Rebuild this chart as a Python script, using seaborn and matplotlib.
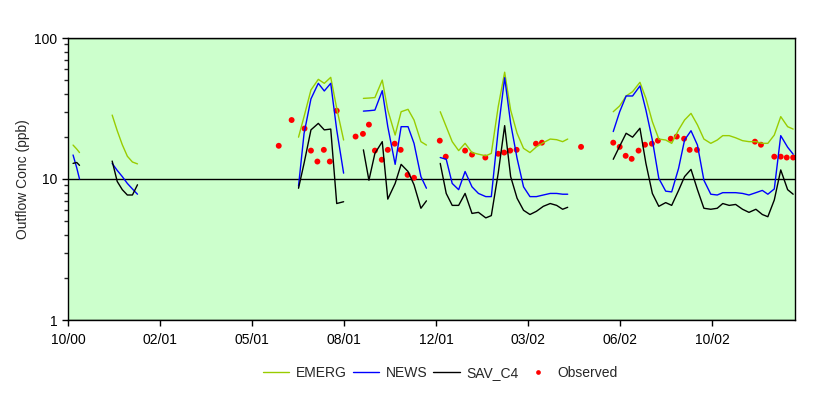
import numpy as np
import pandas as pd
import matplotlib
matplotlib.use("Agg")
import matplotlib.pyplot as plt
import matplotlib.ticker as mticker
import seaborn as sns

# x positions are in sample steps, one tick label every 20 steps
tick_pos = [0, 20, 40, 60, 80, 100, 120, 140]
tick_labels = ["10/00", "02/01", "05/01", "08/01", "12/01", "03/02", "06/02", "10/02"]

seg_x = [
    [1.1, 1.9, 2.5],
    [9.6, 10.7, 11.8, 12.9, 14.0, 15.1],
    [50.1, 51.3, 52.8, 54.4, 55.7, 57.1, 58.4, 59.9],
    [64.2, 65.4, 66.7, 68.3, 69.5, 71.1, 72.4, 73.9, 75.2, 76.7, 77.9],
    [80.9, 82.2, 83.5, 84.9, 86.3, 87.8, 89.2, 90.8, 92.0, 93.5, 94.9,
     96.2, 97.6, 99.0, 100.4, 101.8, 103.3, 104.8, 106.2, 107.5, 108.6],
    [118.5, 119.9, 121.3, 122.7, 124.3, 125.6, 127.0, 128.4, 129.9, 131.2,
     132.7, 134.0, 135.4, 136.8, 138.2, 139.7, 141.1, 142.3, 143.7, 145.1,
     146.6, 148.0, 149.5, 150.9, 152.1, 153.5, 154.9, 156.4, 157.6],
]

emerg = [
    [17.4, 16.3, 15.4],
    [28.4, 22.0, 17.5, 14.5, 13.2, 12.8],
    [19.8, 27.7, 42.8, 50.9, 47.7, 52.6, 31.7, 18.9],
    [37.3, 37.5, 37.8, 50.3, 30.8, 20.5, 30.0, 31.2, 26.2, 18.4, 17.4],
    [30.0, 23.5, 18.4, 15.9, 17.9, 15.4, 15.0, 14.6, 15.2, 32.6, 57.2,
     30.8, 21.1, 16.5, 15.4, 16.9, 18.1, 19.2, 19.0, 18.4, 19.2],
    [30.0, 33.0, 38.8, 41.6, 48.5, 37.3, 25.5, 19.2, 18.9, 17.9,
     22.3, 26.2, 29.2, 24.2, 19.2, 17.9, 18.9, 20.3, 20.3, 19.6,
     18.7, 18.4, 18.4, 17.9, 17.9, 20.5, 27.7, 23.5, 22.6],
]

news = [
    [14.8, 12.0, 10.0],
    [12.9, 11.5, 10.4, 9.3, 8.5, 7.8],
    [8.9, 21.0, 37.0, 47.7, 42.1, 47.7, 22.3, 11.0],
    [30.3, 30.5, 30.8, 42.3, 23.5, 12.7, 23.5, 23.5, 17.9, 10.4, 8.6],
    [14.2, 13.8, 9.3, 8.4, 11.3, 8.8, 7.9, 7.5, 7.5, 22.3, 52.3,
     24.8, 14.0, 8.8, 7.5, 7.5, 7.7, 7.9, 7.9, 7.8, 7.8],
    [21.7, 30.0, 38.8, 38.8, 45.7, 30.8, 18.9, 10.1, 8.2, 8.1,
     11.9, 18.9, 22.0, 17.4, 9.8, 7.8, 7.7, 8.0, 8.0, 8.0,
     7.9, 7.7, 8.0, 8.3, 7.8, 8.5, 20.3, 16.8, 15.0],
]

sav_c4 = [
    [12.9, 13.1, 12.5],
    [13.4, 9.6, 8.4, 7.7, 7.7, 9.1],
    [8.6, 12.9, 22.3, 24.8, 22.3, 22.6, 6.7, 6.9],
    [16.1, 9.8, 15.2, 18.4, 7.2, 9.3, 12.7, 11.3, 9.1, 6.2, 7.0],
    [12.9, 7.9, 6.5, 6.5, 7.9, 5.7, 5.8, 5.3, 5.5, 11.0, 23.9,
     10.4, 7.3, 6.0, 5.6, 5.9, 6.4, 6.7, 6.5, 6.1, 6.3],
    [13.8, 17.1, 21.1, 19.8, 22.9, 12.9, 7.9, 6.4, 6.8, 6.5,
     8.3, 10.4, 11.7, 8.4, 6.2, 6.1, 6.2, 6.7, 6.5, 6.6,
     6.1, 5.8, 6.1, 5.6, 5.4, 7.1, 11.6, 8.4, 7.8],
]

obs_x = [45.8, 48.6, 51.4, 52.8, 54.2, 55.6, 56.9, 58.4,
         62.5, 64.1, 65.4, 66.7, 68.2, 69.5, 71.0, 72.3, 73.8, 75.2,
         80.8, 82.1, 86.3, 87.8, 90.7, 93.5, 94.8, 96.1, 97.5, 101.7, 103.0, 111.5,
         118.5, 119.9, 121.2, 122.5, 124.0, 125.4, 126.9, 128.2, 131.0, 132.3,
         133.9, 135.1, 136.7, 149.3, 150.6, 153.5, 154.9, 156.2, 157.6]
obs_y = [17.2, 26.2, 22.8, 15.9, 13.3, 16.1, 13.3, 30.5,
         20.0, 20.9, 24.3, 15.9, 13.7, 16.1, 17.8, 16.1, 10.7, 10.2,
         18.7, 14.4, 15.9, 14.9, 14.2, 15.1, 15.4, 15.9, 16.1, 17.8, 18.1, 16.9,
         18.1, 16.9, 14.6, 13.9, 15.9, 17.5, 17.8, 18.7, 19.3, 20.0,
         19.3, 16.1, 16.1, 18.4, 17.5, 14.4, 14.4, 14.2, 14.2]

rows = []
for name, series in [("EMERG", emerg), ("NEWS", news), ("SAV_C4", sav_c4)]:
    for k, (xs, ys) in enumerate(zip(seg_x, series)):
        for xv, yv in zip(xs, ys):
            rows.append({"series": name, "seg": k, "x": xv, "y": yv})
lines = pd.DataFrame(rows)
observed = pd.DataFrame({"x": obs_x, "y": obs_y, "series": "Observed"})

sns.set_style("ticks")
plt.rcParams["font.family"] = ["Liberation Sans", "DejaVu Sans"]
plt.rcParams["font.size"] = 10

fig = plt.figure(figsize=(8.29, 3.96), dpi=100)
ax = fig.add_axes([68 / 829, 1 - 320 / 396, (795 - 68) / 829, (320 - 38) / 396])
ax.set_facecolor("#CCFFCC")

palette = {"EMERG": "#99CC00", "NEWS": "#0000FF", "SAV_C4": "#000000"}
sns.lineplot(data=lines, x="x", y="y", hue="series", units="seg",
             estimator=None, palette=palette, linewidth=1, ax=ax, legend=True)
sns.scatterplot(data=observed, x="x", y="y", hue="series",
                palette={"Observed": "#FF0000"}, s=18, linewidth=0,
                ax=ax, legend=True)

ax.set_yscale("log")
ax.set_ylim(1, 100)
ax.set_xlim(0, 158)
ax.yaxis.set_major_locator(mticker.FixedLocator([1, 10, 100]))
ax.yaxis.set_major_formatter(mticker.FixedFormatter(["1", "10", "100"]))
ax.yaxis.set_minor_locator(mticker.LogLocator(base=10, subs=np.arange(2, 10)))
ax.yaxis.set_minor_formatter(mticker.NullFormatter())
ax.grid(True, axis="y", which="major", color="black", linewidth=1)
ax.set_xticks(tick_pos)
ax.set_xticklabels(tick_labels)
ax.tick_params(axis="both", which="major", direction="out", length=4,
               width=1, color="black", labelsize=10, labelcolor="black")
ax.tick_params(axis="y", which="minor", direction="out", length=3, width=1)
ax.tick_params(axis="x", pad=5)
for sp in ax.spines.values():
    sp.set_visible(True)
    sp.set_color("black")
    sp.set_linewidth(1)

ax.set_xlabel("")
ax.set_ylabel("Outflow Conc (ppb)", fontsize=10, labelpad=3)

handles, labels = ax.get_legend_handles_labels()
ax.get_legend().remove()
order = [labels.index(n) for n in ["EMERG", "NEWS", "SAV_C4", "Observed"]]
fig.legend([handles[i] for i in order], [labels[i] for i in order],
           loc="center", bbox_to_anchor=(0.531, 0.058), ncol=4, frameon=False,
           handlelength=1.9, handletextpad=0.45, columnspacing=0.45,
           fontsize=10, markerscale=0.8)

fig.savefig("out.png", dpi=100)
